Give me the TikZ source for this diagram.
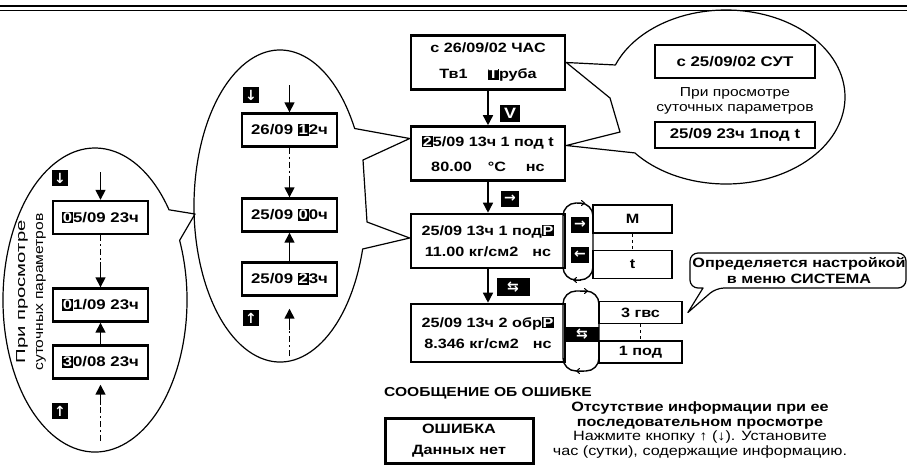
\documentclass[tikz,border=0pt]{standalone}
\usepackage{fontspec}
\setmainfont{Liberation Sans}[FakeStretch=1.2]
\newfontfamily\arrowfont{DejaVu Sans}
\usetikzlibrary{arrows.meta,calc}

\newcommand\blk[1]{{\setlength{\fboxsep}{0.8pt}\colorbox{black}{\textcolor{white}{#1}}}}

\begin{document}
\begin{tikzpicture}[
  x=1pt, y=-1pt,
  lcd/.style={draw, line width=2.6pt, minimum width=154pt, minimum height=54pt,
              inner sep=0pt, align=center, font=\fontsize{13.5}{21}\selectfont\bfseries},
  cell/.style={draw, line width=2.4pt, minimum width=95pt, minimum height=33pt,
               inner sep=0pt, font=\fontsize{14}{15}\selectfont\bfseries},
  menu/.style={draw, line width=1.8pt, inner sep=0pt,
               font=\fontsize{13.5}{15}\selectfont\bfseries},
  btn/.style={fill=black, text=white, inner sep=0pt, minimum width=18pt,
              minimum height=16pt, font=\arrowfont\bfseries\fontsize{14}{14}\selectfont},
  arrow/.style={-{Triangle[length=10pt,width=10pt]}, line width=1.5pt},
  skipline/.style={line width=1.5pt, dash pattern=on 6pt off 3pt on 2pt off 3pt},
  balloon/.style={line width=1.2pt, line join=round},
  loopline/.style={line width=1.4pt, rounded corners=13pt},
  looptip/.style={-{To[length=4pt,width=6pt]}, line width=1pt},
  note/.style={align=center, font=\fontsize{13}{15}\selectfont}
]
\useasboundingbox (0,0) rectangle (907,467);

% header rules
\draw[line width=2.5pt] (0,6) -- (907,6);
\draw[line width=1pt] (0,10) -- (907,10);

% main column
\node[lcd] (hour) at (488,62.5) {с 26/09/02 ЧАС\\[5pt]Тв1\hspace{20pt}\blk{Т}руба};
\node[lcd] (param) at (488,153.5) {\blk{2}5/09 13ч 1 под t\\[4pt]80.00\hspace{16pt}°С\hspace{20pt}нс};
\node[lcd] (press) at (488,241) {25/09 13ч 1 под\blk{P}\\11.00 кг/см2\hspace{14pt}нс};
\node[lcd, minimum height=58pt] (ret) at (488,333) {25/09 13ч 2 обр\blk{P}\\8.346 кг/см2\hspace{14pt}нс};
\node[btn, minimum width=20pt, minimum height=17pt, font=\fontsize{15}{15}\selectfont\bfseries] (selkey) at (510,113) {V};
\node[btn] (nextkey) at (510,199) {→};
\node[btn, minimum width=33pt, minimum height=18pt] (swapkey) at (513,287) {⇆};
\draw[arrow] (hour) -- (param);
\draw[arrow] (param) -- (press);
\draw[arrow] (press) -- (ret);

% loop of the pressure screen
\draw[loopline] (563,203) rectangle (593,280);
\draw[looptip] (577,203) -- (585,203);
\draw[looptip] (581,280) -- (573,280);
\node[btn] (rkey) at (580,225) {→};
\node[btn] (lkey) at (580,255) {←};
\node[menu, minimum width=79pt, minimum height=28pt] (unitm) at (632.5,219) {М};
\node[menu, minimum width=79pt, minimum height=28pt] (unitt) at (632.5,264.5) {t};
\draw[line width=1.5pt, dashed] (unitm) -- (unitt);

% loop of the pipe screen
\draw[loopline] (563,291) rectangle (599,371);
\draw[looptip] (580,291) -- (588,291);
\draw[looptip] (584,371) -- (576,371);
\node[btn, minimum width=33pt, minimum height=15pt] (swapkey2) at (582,334) {⇆};
\node[menu, minimum width=83pt, minimum height=22pt] (gvs) at (640.5,312.5) {3 гвс};
\node[menu, minimum width=83pt, minimum height=22pt] (pod) at (640.5,352) {1 под};
\draw[line width=1.5pt, dashed] (gvs) -- (pod);

% system callout
\node[font=\fontsize{13.5}{16}\selectfont\bfseries, align=center] (sysnote) at (799,271) {Определяется настройкой\\в меню СИСТЕМА};
\draw[balloon] (703,288) [rounded corners=8pt] -- (690,288) -- (690,253) -- (906,253)
  -- (906,288) -- (716,288) [sharp corners] -- ($(gvs.east)+(5,0)$) -- cycle;

% daily balloon, top right
\node[cell, minimum width=160pt] (daystart) at (735,61.5) {с 25/09/02 СУТ};
\node[note] (daytext) at (735,100.5) {При просмотре\\суточных параметров};
\node[cell, minimum width=160pt, minimum height=26pt] (dayline) at (735,135) {25/09 23ч 1под t};
\draw[balloon] (hour.east) -- (610,98) -- (620,132) -- ($(param.east)+(0,-8)$)
  -- ($(726,97)+(140:119 and 87)$)
  arc[start angle=140, end angle=-158.4, x radius=119, y radius=87] -- cycle;

% hourly balloon
\draw[balloon] ($(280,206)+(16:86 and 156)$)
  arc[start angle=16, end angle=330.2, x radius=86, y radius=156]
  -- ($(param.west)+(0,-15)$) -- (363,160) -- (367,222) -- ($(press.west)+(0,-3)$) -- cycle;
\node[btn, minimum width=16pt] (hdown) at (251,95) {↓};
\coordinate (htop) at (289.5,85);
\node[cell] (h12) at (289.5,130) {26/09 \blk{1}2ч};
\node[cell] (h00) at (289.5,215) {25/09 \blk{0}0ч};
\node[cell] (h23) at (289.5,279) {25/09 \blk{2}3ч};
\coordinate (hmid) at (289.5,176);
\coordinate (hbot) at (289.5,356);
\coordinate (hlow) at (289.5,330);
\node[btn, minimum width=16pt] (hup) at (251,318) {↑};
\draw[arrow] (htop) -- (h12);
\draw[skipline] (h12) -- (hmid);
\draw[arrow] (hmid) -- (h00);
\draw[arrow] (h23) -- (h00);
\draw[skipline] (hbot) -- (hlow);
\draw[arrow, shorten >=12pt] (hlow) -- (h23);

% daily list balloon, left
\draw[balloon] ($(95,300)+(-23.1:92 and 152)$)
  arc[start angle=-23.1, end angle=323.6, x radius=92, y radius=152] -- (195,214) -- cycle;
\node[note, rotate=90, font=\fontsize{13}{18}\selectfont] (dayhint) at (31,292)
  {\scalebox{1.3}[1]{При просмотре}\\суточных параметров};
\node[btn, minimum width=16pt] (ddown) at (60,178) {↓};
\coordinate (dtop) at (100.5,172);
\node[cell] (d05) at (100.5,217.5) {\blk{0}5/09 23ч};
\node[cell] (d01) at (100.5,305) {\blk{0}1/09 23ч};
\node[cell] (d30) at (100.5,362) {\blk{3}0/08 23ч};
\coordinate (dmid) at (100.5,262);
\coordinate (dbot) at (100.5,441);
\coordinate (dlow) at (100.5,405);
\node[btn, minimum width=16pt] (dup) at (60,411) {↑};
\draw[arrow] (dtop) -- (d05);
\draw[skipline] (d05) -- (dmid);
\draw[arrow] (dmid) -- (d01);
\draw[arrow] (d30) -- (d01);
\draw[skipline] (dbot) -- (dlow);
\draw[arrow, shorten >=5pt] (dlow) -- (d30);

% error message
\node[font=\fontsize{13}{15}\selectfont\bfseries] (errtitle) at (488,393) {СООБЩЕНИЕ ОБ ОШИБКЕ};
\node[lcd, minimum width=148pt, minimum height=45pt, line width=3pt] (errbox) at (459,440.5) {ОШИБКА\\Данных нет};
\node[align=center, font=\fontsize{13.5}{14.5}\selectfont] (errhelp) at (700,430)
  {\textbf{Отсутствие информации при ее}\\\textbf{последовательном просмотре}\\
   Нажмите кнопку ↑ (↓). Установите\\час (сутки), содержащие информацию.};
\end{tikzpicture}
\end{document}
